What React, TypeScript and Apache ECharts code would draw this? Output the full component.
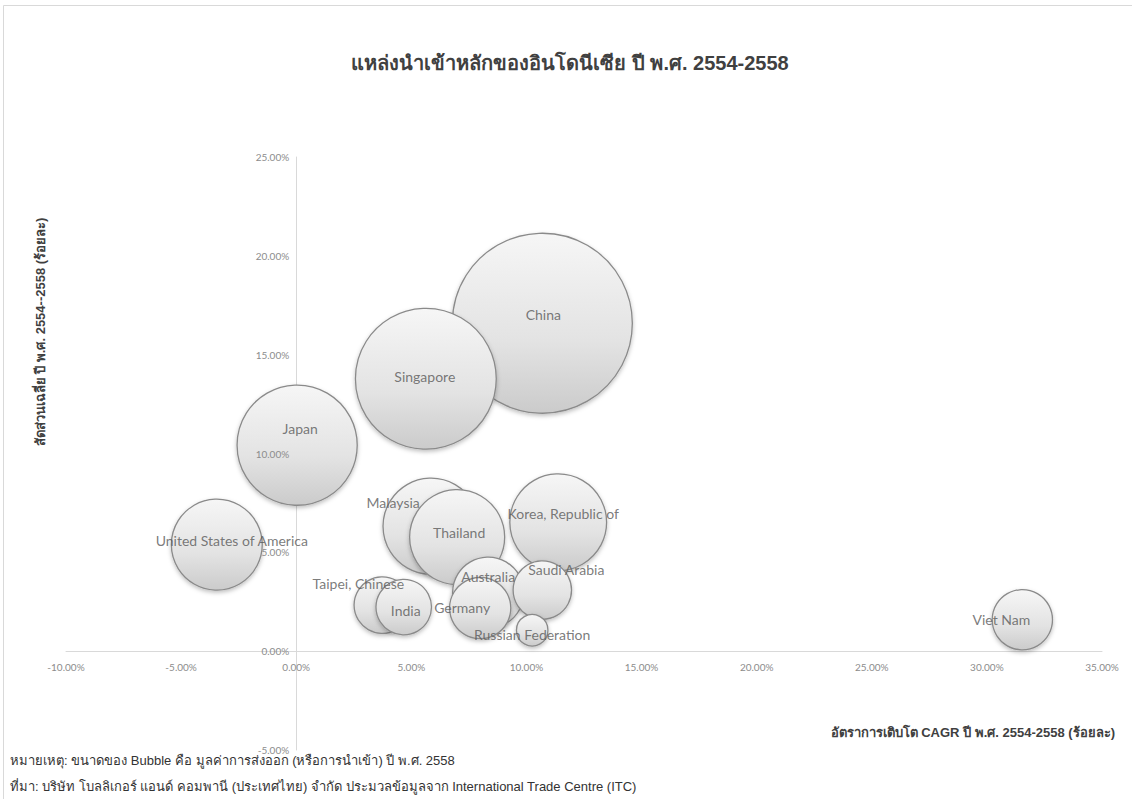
import React, { useEffect, useRef } from "react";
import * as echarts from "echarts";

const countries = [
  "China",
  "Singapore",
  "Japan",
  "Korea, Republic of",
  "Malaysia",
  "Thailand",
  "United States of America",
  "Australia",
  "Germany",
  "Viet Nam",
  "Saudi Arabia",
  "Taipei, Chinese",
  "India",
  "Russian Federation",
];
// CAGR 2554-2558 (%)
const cagr = [10.69, 5.63, 0.04, 11.38, 5.86, 6.99, -3.45, 8.34, 7.99, 31.54, 10.69, 3.74, 4.67, 10.25];
// average share 2554-2558 (%)
const share = [16.59, 13.78, 10.42, 6.52, 6.32, 5.77, 5.39, 2.96, 2.18, 1.59, 3.09, 2.33, 2.23, 1.06];
// import value 2558 (billion USD, bubble size)
const importValue = [29.4, 18.0, 13.1, 8.5, 8.4, 8.2, 7.5, 4.6, 3.4, 3.3, 3.1, 2.9, 2.8, 0.9];

const xTicks = { min: -10, max: 35, interval: 5 };
const yTicks = { min: -5, max: 25, interval: 5 };

// label placement (styling, px offsets from bubble centre)
const labelOffsets: Record<string, [number, number]> = {
  China: [1, -9],
  Singapore: [-1, -2],
  Japan: [3, -17],
  "Korea, Republic of": [5, -9],
  Malaysia: [-38, -24],
  Thailand: [2, -5],
  "United States of America": [15, -4],
  Australia: [0, -16],
  Germany: [-18, -1],
  "Viet Nam": [-21, 0],
  "Saudi Arabia": [24, -21],
  "Taipei, Chinese": [-24, -22],
  India: [2, 3],
  "Russian Federation": [0, 4],
};

const TITLE = "แหล่งนำเข้าหลักของอินโดนีเซีย ปี พ.ศ. 2554-2558";
const Y_NAME = "สัดส่วนเฉลี่ย ปี พ.ศ. 2554--2558 (ร้อยละ)";
const X_NAME = "อัตราการเติบโต CAGR ปี พ.ศ. 2554-2558 (ร้อยละ)";
const NOTE1 = "หมายเหตุ: ขนาดของ Bubble คือ มูลค่าการส่งออก (หรือการนำเข้า) ปี พ.ศ. 2558";
const NOTE2 = "ที่มา: บริษัท โบลลิเกอร์ แอนด์ คอมพานี (ประเทศไทย) จำกัด ประมวลข้อมูลจาก International Trade Centre (ITC)";

const LABEL_FONT = "Lato, 'Open Sans', sans-serif";
const THAI_FONT = "'Liberation Sans Narrow', 'Liberation Sans', Arial, sans-serif";

const W = 1132;
const H = 799;
const GRID = { left: 66, right: 30, top: 157, bottom: 49 };

export default function App() {
  const ref = useRef<HTMLDivElement>(null);

  useEffect(() => {
    if (!ref.current) return;
    const chart = echarts.init(ref.current, undefined, { renderer: "svg" });
    const maxV = Math.max(...importValue);
    const bubbleData = countries.map((n, i) => ({
      name: n,
      value: [cagr[i], share[i], importValue[i]],
    }));
    const labelData = countries.map((n, i) => ({
      name: n,
      value: [cagr[i], share[i]],
      label: { offset: labelOffsets[n] || [0, 0] },
    }));
    const pct = (v: number) => v.toFixed(2) + "%";

    // shift the axes so they cross at zero (labels included)
    const plotW = W - GRID.left - GRID.right;
    const plotH = H - GRID.top - GRID.bottom;
    const xOffset = -plotH * ((0 - yTicks.min) / (yTicks.max - yTicks.min));
    const yOffset = -plotW * ((0 - xTicks.min) / (xTicks.max - xTicks.min));

    const axisLabelStyle = {
      formatter: pct,
      color: "#8c8c8c",
      fontSize: 10,
      fontFamily: LABEL_FONT,
    };

    chart.setOption({
      animation: false,
      backgroundColor: "#ffffff",
      grid: { ...GRID, containLabel: false },
      xAxis: {
        type: "value",
        min: xTicks.min,
        max: xTicks.max,
        interval: xTicks.interval,
        offset: xOffset,
        axisLine: { onZero: false, lineStyle: { color: "#d9d9d9", width: 1 } },
        axisTick: { show: false },
        splitLine: { show: false },
        axisLabel: { ...axisLabelStyle, margin: 11 },
      },
      yAxis: [
        {
          type: "value",
          position: "left",
          min: yTicks.min,
          max: yTicks.max,
          interval: yTicks.interval,
          offset: yOffset,
          axisLine: { show: true, onZero: false, lineStyle: { color: "#d9d9d9", width: 1 } },
          axisTick: { show: false },
          splitLine: { show: false },
          axisLabel: { show: false },
          z: 0,
        },
        {
          type: "value",
          position: "left",
          min: yTicks.min,
          max: yTicks.max,
          interval: yTicks.interval,
          offset: yOffset,
          axisLine: { show: false, onZero: false },
          axisTick: { show: false },
          splitLine: { show: false },
          axisLabel: { ...axisLabelStyle, margin: 7 },
          z: 8,
        },
      ],
      series: [
        {
          type: "scatter",
          yAxisIndex: 0,
          data: bubbleData,
          symbolSize: (d: number[]) => 180 * Math.sqrt(d[2] / maxV),
          itemStyle: {
            color: new echarts.graphic.LinearGradient(0, 0, 0, 1, [
              { offset: 0, color: "#f6f6f6" },
              { offset: 0.6, color: "#e3e3e3" },
              { offset: 1, color: "#cbcbcb" },
            ]),
            borderColor: "#8a8a8a",
            borderWidth: 1.3,
            shadowBlur: 4,
            shadowColor: "rgba(0,0,0,0.25)",
            shadowOffsetY: 2,
            opacity: 1,
          },
          z: 2,
        },
        {
          type: "scatter",
          yAxisIndex: 0,
          data: labelData,
          symbolSize: 1,
          silent: true,
          itemStyle: { color: "rgba(0,0,0,0)" },
          label: {
            show: true,
            position: "inside",
            formatter: (p: any) => p.name,
            color: "#595959",
            fontSize: 14,
            fontFamily: LABEL_FONT,
          },
          z: 5,
        },
      ],
      graphic: [
        {
          type: "rect",
          shape: { x: 3.5, y: 5.5, width: 1140, height: 800 },
          style: { fill: "none", stroke: "#d9d9d9", lineWidth: 1 },
          silent: true,
        },
        {
          type: "text",
          x: 570,
          y: 63,
          style: {
            text: TITLE,
            fill: "#404040",
            font: `bold 20px ${THAI_FONT}`,
            textAlign: "center",
            textVerticalAlign: "middle",
          },
        },
        {
          type: "text",
          x: 40,
          y: 332,
          rotation: Math.PI / 2,
          style: {
            text: Y_NAME,
            fill: "#404040",
            font: `bold 13px ${THAI_FONT}`,
            textAlign: "center",
            textVerticalAlign: "middle",
          },
        },
        {
          type: "text",
          x: 1115,
          y: 732,
          style: {
            text: X_NAME,
            fill: "#404040",
            font: `bold 13px ${THAI_FONT}`,
            textAlign: "right",
            textVerticalAlign: "middle",
          },
        },
        {
          type: "text",
          x: 10,
          y: 760,
          style: {
            text: NOTE1,
            fill: "#333333",
            font: `13px 'Liberation Sans', Arial, sans-serif`,
            textAlign: "left",
            textVerticalAlign: "middle",
          },
        },
        {
          type: "text",
          x: 10,
          y: 786,
          style: {
            text: NOTE2,
            fill: "#333333",
            font: `13px 'Liberation Sans', Arial, sans-serif`,
            textAlign: "left",
            textVerticalAlign: "middle",
          },
        },
      ],
    });
    return () => chart.dispose();
  }, []);

  return (
    <div
      ref={ref}
      style={{ position: "fixed", left: 0, top: 0, width: W, height: H }}
    />
  );
}
